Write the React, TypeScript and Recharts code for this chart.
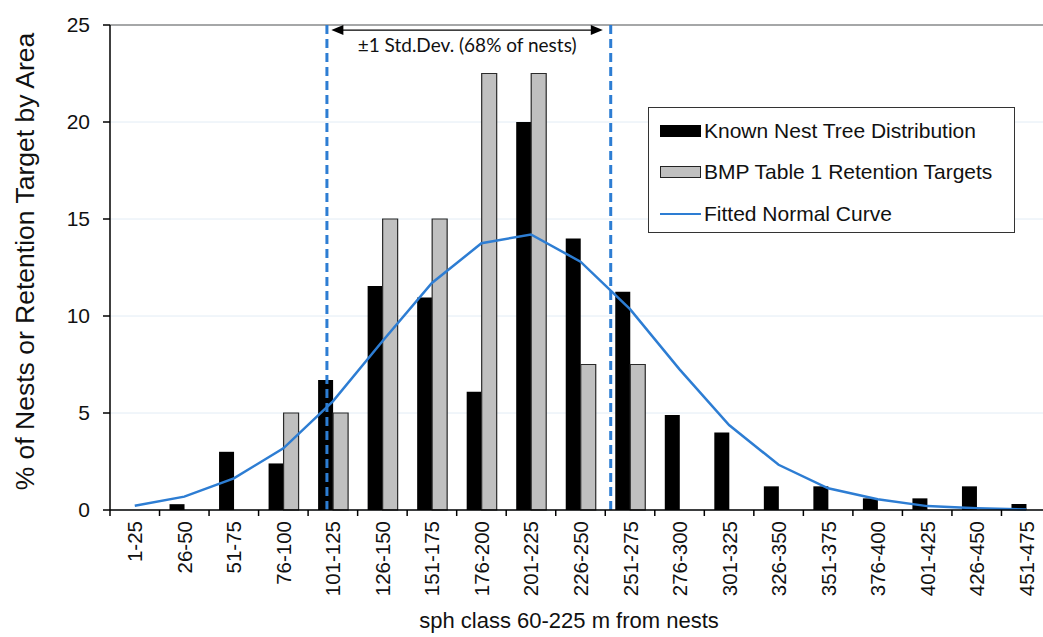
import {
  ComposedChart,
  Bar,
  Line,
  XAxis,
  YAxis,
  CartesianGrid,
  Legend,
  ReferenceLine,
} from "recharts";

const categories = [
  "1-25", "26-50", "51-75", "76-100", "101-125", "126-150", "151-175",
  "176-200", "201-225", "226-250", "251-275", "276-300", "301-325",
  "326-350", "351-375", "376-400", "401-425", "426-450", "451-475",
];
const knownNest = [
  null, 0.3, 3.0, 2.4, 6.7, 11.55, 10.95, 6.1, 20.0, 14.0, 11.25, 4.9, 4.0,
  1.22, 1.22, 0.6, 0.6, 1.22, 0.31,
];
const bmpTargets = [
  null, null, null, 5, 5, 15, 15, 22.5, 22.5, 7.5, 7.5, null, null, null,
  null, null, null, null, null,
];
const normalCurve = [
  0.22, 0.69, 1.63, 3.18, 5.6, 8.7, 11.7, 13.75, 14.2, 12.8, 10.35, 7.25,
  4.38, 2.33, 1.12, 0.55, 0.2, 0.09, 0.03,
];
const yTicks = [0, 5, 10, 15, 20, 25];
// std dev bounds, in category-width units from the left edge
const sdLow = 4.38;
const sdHigh = 10.11;

const data = categories.map((c, i) => ({
  cat: c,
  pos: i + 0.5,
  known: knownNest[i],
  bmp: bmpTargets[i],
  curve: normalCurve[i],
}));

const FONT = "'Liberation Sans', Arial, sans-serif";
const BLUE = "#2d7dd3";

const XTick = (props: any) => {
  const { x, y, payload } = props;
  const off = payload?.offset ?? 0;
  return (
    <g>
      <line x1={x - off} x2={x - off} y1={y} y2={y + 6} stroke="#000" strokeWidth={1.5} />
      <text
        transform={`translate(${x},${y + 11}) rotate(-90)`}
        textAnchor="end"
        dominantBaseline="central"
        fontSize={20.5}
        fontFamily={FONT}
        fill="#111"
      >
        {payload.value}
      </text>
    </g>
  );
};

const ArrowShape = (props: any) => {
  const { x1, y1, x2 } = props;
  const y = y1;
  return (
    <g>
      <line x1={x1 + 8} x2={x2 - 8} y1={y} y2={y} stroke="#000" strokeWidth={1.3} />
      <polygon points={`${x1},${y} ${x1 + 12},${y - 5} ${x1 + 12},${y + 5}`} fill="#000" />
      <polygon points={`${x2},${y} ${x2 - 12},${y - 5} ${x2 - 12},${y + 5}`} fill="#000" />
      <text
        x={(x1 + x2) / 2}
        y={y + 22}
        textAnchor="middle"
        fontSize={19}
        fontFamily="Lato, 'Open Sans', sans-serif"
        fill="#111"
      >
        ±1 Std.Dev. (68% of nests)
      </text>
    </g>
  );
};

const legendItems = [
  { label: "Known Nest Tree Distribution", kind: "black" },
  { label: "BMP Table 1 Retention Targets", kind: "gray" },
  { label: "Fitted Normal Curve", kind: "line" },
];

const LegendBox = () => (
  <div
    style={{
      width: 367,
      height: 126,
      border: "1.5px solid #333",
      background: "#fff",
      boxSizing: "border-box",
      padding: "2px 0 0 11px",
      fontFamily: FONT,
      fontSize: 21,
      color: "#111",
    }}
  >
    {legendItems.map((it) => (
      <div key={it.label} style={{ display: "flex", alignItems: "center", height: 41.5 }}>
        <span
          style={{
            display: "inline-block",
            width: 41,
            height: it.kind === "line" ? 2.5 : 12,
            background: it.kind === "black" ? "#000" : it.kind === "gray" ? "#c0c0c0" : BLUE,
            border: it.kind === "gray" ? "1.5px solid #222" : "none",
            boxSizing: "border-box",
            marginRight: 3,
          }}
        />
        <span>{it.label}</span>
      </div>
    ))}
  </div>
);

export default function App() {
  return (
    <div style={{ width: 1043, height: 637, overflow: "hidden", background: "#fff" }}>
      <style>{"body{margin:0}"}</style>
      <ComposedChart
        width={1060}
        height={637}
        data={data}
        margin={{ top: 25, right: 9, bottom: 0, left: 0 }}
        barCategoryGap="39%"
        barGap={0}
      >
        <CartesianGrid vertical={false} stroke="#e2ecf5" strokeWidth={1} />
        <XAxis
          dataKey="cat"
          interval={0}
          height={127}
          tickSize={0}
          tickMargin={0}
          tickLine={false}
          axisLine={{ stroke: "#000", strokeWidth: 1.5 }}
          tick={<XTick />}
          label={{
            content: (p: any) => (
              <text
                x={p.viewBox.x + 459}
                y={p.viewBox.y + 118}
                textAnchor="middle"
                fontSize={22}
                fontFamily={FONT}
                fill="#111"
              >
                sph class 60-225 m from nests
              </text>
            ),
          }}
        />
        <XAxis
          xAxisId="sd"
          dataKey="pos"
          type="number"
          domain={[0, 19]}
          hide
        />
        <YAxis
          width={110}
          domain={[0, 25]}
          ticks={yTicks}
          interval={0}
          tickSize={7}
          tickMargin={13}
          tick={{ fontSize: 21, fontFamily: FONT, fill: "#111" }}
          tickLine={{ stroke: "#000", strokeWidth: 1.5 }}
          axisLine={{ stroke: "#000", strokeWidth: 1.5 }}
          label={{
            content: (p: any) => (
              <text
                transform={`translate(${p.viewBox.x + 34},${p.viewBox.y + p.viewBox.height / 2 - 6}) rotate(-90)`}
                textAnchor="middle"
                fontSize={26.5}
                fontFamily={FONT}
                fill="#111"
              >
                % of Nests or Retention Target by Area
              </text>
            ),
          }}
        />
        <ReferenceLine y={25} stroke="#8c8c8c" strokeWidth={1.5} />
        <Bar
          dataKey="known"
          name="Known Nest Tree Distribution"
          fill="#000"
          barSize={15}
          isAnimationActive={false}
        />
        <Bar
          dataKey="bmp"
          name="BMP Table 1 Retention Targets"
          fill="#c0c0c0"
          stroke="#2a2a2a"
          strokeWidth={1.2}
          barSize={15}
          isAnimationActive={false}
        />
        <ReferenceLine xAxisId="sd" x={sdLow} stroke={BLUE} strokeWidth={3} strokeDasharray="9 5" />
        <ReferenceLine xAxisId="sd" x={sdHigh} stroke={BLUE} strokeWidth={3} strokeDasharray="9 5" />
        <ReferenceLine
          xAxisId="sd"
          segment={[{ x: 4.47, y: 24.74 }, { x: 9.95, y: 24.74 }]}
          shape={<ArrowShape />}
        />
        <Line
          type="linear"
          dataKey="curve"
          name="Fitted Normal Curve"
          stroke={BLUE}
          strokeWidth={2.5}
          dot={false}
          isAnimationActive={false}
        />
        <Legend
          layout="vertical"
          align="center"
          verticalAlign="middle"
          content={<LegendBox />}
          wrapperStyle={{ position: "absolute", left: 648, top: 107, width: 367 }}
        />
      </ComposedChart>
    </div>
  );
}
